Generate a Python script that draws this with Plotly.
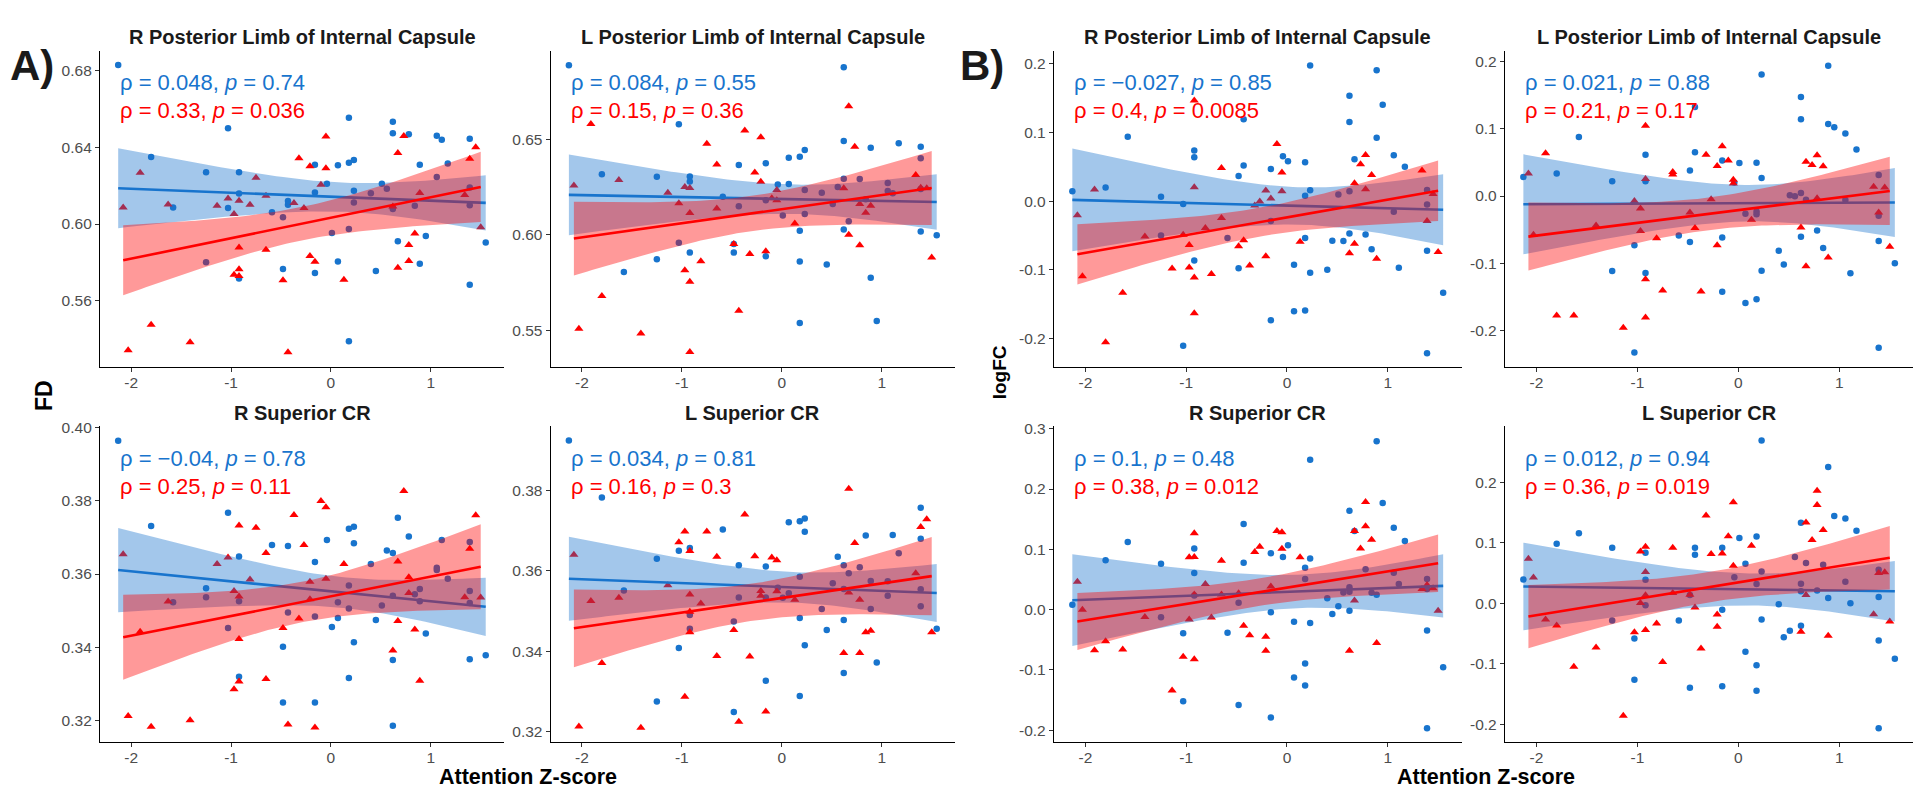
import numpy as np
import plotly.graph_objects as go

# ---------------- data ----------------
X_BLUE = [-2.13, -1.80, -1.58, -1.25, -1.25, -1.03, -1.03, -0.92, -0.92, -0.92, -0.59, -0.48, -0.48,
          -0.43, -0.43, -0.16, -0.16, -0.16, -0.04, 0.01, 0.07, 0.07, 0.18, 0.18, 0.18, 0.18, 0.23, 0.23,
          0.23, 0.40, 0.45, 0.51, 0.56, 0.62, 0.62, 0.62, 0.62, 0.67, 0.78, 0.84, 0.89, 0.89, 0.95, 1.06,
          1.06, 1.11, 1.17, 1.39, 1.39, 1.39, 1.39, 1.55]
X_RED = [-2.08, -2.03, -1.91, -1.80, -1.63, -1.41, -1.14, -1.03, -0.97, -0.97, -0.92, -0.92, -0.92, -0.92,
         -0.81, -0.75, -0.65, -0.65, -0.48, -0.43, -0.37, -0.32, -0.27, -0.21, -0.21, -0.16, -0.10, -0.05,
         -0.05, 0.13, 0.62, 0.67, 0.67, 0.73, 0.78, 0.78, 0.84, 0.89, 1.34, 1.39, 1.45, 1.50]

FD_R_PLIC_BLUE = [0.683, 0.635, 0.6086, 0.627, 0.580, 0.650, 0.6084, 0.627, 0.6159, 0.5716, 0.6062, 0.6036, 0.5766,
                  0.612, 0.610, 0.6309, 0.6164, 0.5745, 0.621, 0.5953, 0.6307, 0.5805, 0.6555, 0.632, 0.5974, 0.5388,
                  0.6334, 0.6174, 0.6112, 0.616, 0.5755, 0.621, 0.6184, 0.6534, 0.6474, 0.6086, 0.6078, 0.591,
                  0.6469, 0.6095, 0.6309, 0.5793, 0.5938, 0.646, 0.6245, 0.644, 0.6316, 0.6445, 0.619, 0.6098,
                  0.5683, 0.5903]
FD_R_PLIC_RED = [0.6086, 0.5341, 0.6267, 0.5474, 0.6102, 0.5383, 0.6095, 0.6133, 0.6052, 0.5736, 0.6121, 0.5878,
                 0.5764, 0.5729, 0.610, 0.6241, 0.6147, 0.5866, 0.5707, 0.5331, 0.611, 0.6343, 0.6083, 0.6302,
                 0.5833, 0.5803, 0.6205, 0.6457, 0.6291, 0.5709, 0.6091, 0.6371, 0.5772, 0.6459, 0.5891, 0.5807,
                 0.595, 0.6162, 0.6152, 0.6341, 0.640, 0.5983]

FD_L_PLIC_BLUE = [0.6888, 0.6318, 0.5805, 0.6304, 0.5872, 0.6579, 0.5959, 0.6306, 0.628, 0.5907, 0.6199, 0.5952,
                  0.5907, 0.6366, 0.615, 0.6375, 0.6181, 0.5888, 0.6264, 0.6102, 0.6404, 0.6266, 0.6409, 0.6022,
                  0.586, 0.5539, 0.6444, 0.6235, 0.6109, 0.6221, 0.5845, 0.6161, 0.625, 0.6877, 0.6492, 0.6294,
                  0.6028, 0.6071, 0.6292, 0.6187, 0.6456, 0.5775, 0.5549, 0.6271, 0.623, 0.6218, 0.648, 0.6461,
                  0.6401, 0.624, 0.6017, 0.5998]
FD_L_PLIC_RED = [0.6259, 0.5509, 0.658, 0.568, 0.6287, 0.5484, 0.6221, 0.6166, 0.625, 0.5815, 0.6245, 0.6114,
                 0.5755, 0.5387, 0.5862, 0.6477, 0.6368, 0.6138, 0.5952, 0.5603, 0.6546, 0.59, 0.6326, 0.6511,
                 0.6278, 0.5914, 0.6192, 0.6235, 0.6181, 0.6059, 0.6244, 0.6674, 0.60, 0.6461, 0.6162, 0.5946,
                 0.6116, 0.6152, 0.6314, 0.6247, 0.6244, 0.5881]

FD_R_SCR_BLUE = [0.3963, 0.3731, 0.3523, 0.3561, 0.3537, 0.3767, 0.3453, 0.3648, 0.3526, 0.332, 0.3679, 0.3402,
                 0.325, 0.3676, 0.3495, 0.3633, 0.3484, 0.325, 0.3693, 0.3456, 0.3523, 0.348, 0.3723, 0.3569,
                 0.3506, 0.3317, 0.3729, 0.3684, 0.3414, 0.3627, 0.3475, 0.3514, 0.3664, 0.3657, 0.3541, 0.3366,
                 0.3187, 0.3753, 0.3702, 0.3545, 0.3559, 0.3526, 0.3438, 0.3617, 0.3611, 0.3693, 0.3587, 0.3687,
                 0.3554, 0.3521, 0.3368, 0.3379]
FD_R_SCR_RED = [0.3654, 0.3213, 0.3443, 0.3184, 0.3525, 0.3202, 0.3627, 0.3645, 0.3554, 0.3286, 0.3732, 0.3539,
                0.3423, 0.3307, 0.3585, 0.3726, 0.3657, 0.3314, 0.3453, 0.319, 0.3761, 0.3479, 0.3679, 0.3579,
                0.3531, 0.3182, 0.3799, 0.3782, 0.3587, 0.3627, 0.3392, 0.3634, 0.3472, 0.3826, 0.3591, 0.3548,
                0.3449, 0.3309, 0.3537, 0.3669, 0.376, 0.3536]

FD_L_SCR_BLUE = [0.3924, 0.3782, 0.3551, 0.363, 0.3275, 0.365, 0.3408, 0.3657, 0.349, 0.3456, 0.3703, 0.3474,
                 0.3249, 0.3614, 0.3534, 0.3611, 0.3534, 0.3327, 0.3558, 0.3533, 0.3721, 0.3544, 0.3723, 0.3585,
                 0.3483, 0.3289, 0.373, 0.3697, 0.3415, 0.3505, 0.3453, 0.3569, 0.3635, 0.3614, 0.3555, 0.3478,
                 0.3346, 0.3594, 0.3609, 0.3688, 0.3575, 0.3505, 0.3372, 0.3574, 0.3538, 0.3689, 0.3644, 0.3757,
                 0.368, 0.3554, 0.3512, 0.3456]
FD_L_SCR_RED = [0.364, 0.3213, 0.3525, 0.3371, 0.3533, 0.321, 0.3564, 0.3671, 0.3698, 0.3287, 0.3649, 0.3541,
                0.3498, 0.3447, 0.3519, 0.3698, 0.3635, 0.3388, 0.3453, 0.3225, 0.374, 0.3387, 0.3636, 0.355,
                0.3538, 0.325, 0.3633, 0.3626, 0.3549, 0.3528, 0.3396, 0.3804, 0.3546, 0.3669, 0.3528, 0.3396,
                0.3447, 0.3451, 0.3594, 0.3709, 0.3728, 0.3447]

LOGFC_R_PLIC_BLUE = [0.0144, 0.0197, 0.0935, 0.0062, -0.050, -0.0043, -0.210, 0.0734, 0.0638, -0.0863, -0.0537,
                     0.0365, -0.0974, 0.119, 0.0518, 0.0465, -0.029, -0.173, 0.0652, 0.058, -0.0926, -0.160,
                     0.0566, 0.0077, -0.0537, -0.159, 0.197, 0.0158, -0.104, -0.0998, -0.0576, 0.0096, -0.058,
                     0.153, 0.115, 0.0144, -0.047, 0.0609, -0.0484, -0.070, 0.190, 0.092, 0.140, 0.0667, -0.0153,
                     -0.0969, 0.050, 0.0163, -0.0048, -0.072, -0.221, -0.133]
LOGFC_R_PLIC_RED = [-0.0206, -0.109, 0.0168, -0.205, -0.133, -0.0513, -0.098, -0.049, -0.0638, -0.0964, 0.146,
                    0.020, -0.111, -0.163, -0.039, -0.106, 0.048, -0.0245, -0.0657, -0.057, -0.0935, -0.0062,
                    -0.0005, 0.0153, -0.080, 0.0038, 0.083, 0.0417, 0.0144, -0.059, -0.0758, 0.0259, -0.0619,
                    0.0537, 0.0671, 0.0173, 0.0379, -0.0839, 0.0446, -0.0288, 0.0105, -0.0739]

LOGFC_L_PLIC_BLUE = [0.0284, 0.0333, 0.0875, 0.022, -0.1115, -0.0733, -0.2323, 0.0611, 0.022, -0.1144, -0.0587,
                     0.0377, -0.0685, 0.132, 0.065, 0.0528, -0.0616, -0.1423, 0.02, 0.049, -0.0264, -0.159,
                     0.0494, -0.023, -0.027, -0.1535, 0.1804, 0.0269, -0.111, -0.0812, -0.1017, 0.001, -0.0005,
                     0.1472, 0.1139, 0.0044, -0.0606, -0.0054, -0.0513, -0.0773, 0.1936, 0.1071, 0.1022, 0.0929,
                     -0.0059, -0.1149, 0.069, 0.0313, -0.0293, -0.067, -0.2254, -0.0998]
LOGFC_L_PLIC_RED = [0.0333, -0.0577, 0.0636, -0.1775, -0.1775, -0.044, -0.1956, -0.0073, -0.0186, -0.0518, 0.1042,
                    0.0254, -0.1237, -0.1804, -0.0626, -0.1403, 0.0357, 0.0318, -0.0244, -0.0474, -0.1418, 0.0611,
                    -0.0049, 0.0445, -0.0733, 0.0738, 0.0528, 0.024, 0.0186, -0.0352, -0.0469, 0.0509, -0.1042,
                    0.046, 0.0606, -0.0034, 0.044, -0.0914, 0.0137, -0.0244, 0.0127, -0.0753]

LOGFC_R_SCR_BLUE = [0.0082, 0.082, 0.112, 0.076, -0.0126, -0.0393, -0.152, 0.1016, 0.0607, 0.0235, -0.0383, 0.0115,
                    -0.158, 0.142, 0.0776, 0.0934, -0.0044, -0.1787, 0.0874, 0.1066, -0.0202, -0.1126, 0.0694,
                    0.0508, -0.0891, -0.1257, 0.2486, 0.0847, -0.0219, 0.0191, -0.0071, 0.0055, 0.0284, 0.1639,
                    0.0372, 0.0295, -0.0016, 0.1306, 0.0672, 0.0279, 0.2792, 0.0246, 0.177, 0.136, 0.0612, 0.0426,
                    0.1137, 0.0508, 0.0344, -0.0344, -0.1967, -0.0956]
LOGFC_R_SCR_RED = [0.0464, 0.0, -0.0672, -0.0525, -0.0661, -0.012, -0.1339, -0.0781, 0.0869, -0.0164, 0.1268,
                   0.0874, 0.0251, -0.082, 0.0426, -0.0131, 0.0809, 0.0251, 0.0273, -0.0268, -0.0426, 0.0956,
                   0.1044, -0.0448, -0.0683, 0.0383, 0.1306, 0.1284, 0.1011, 0.0869, -0.0683, 0.1306, 0.0153,
                   0.1016, 0.1787, 0.1383, 0.1158, -0.0552, 0.0344, 0.041, 0.0355, -0.0016]

LOGFC_L_SCR_BLUE = [0.0393, 0.0984, 0.1158, 0.0918, -0.0284, -0.0585, -0.1268, 0.0836, 0.0388, -0.0033, -0.0284,
                    0.0137, -0.1399, 0.0918, 0.0803, 0.0918, -0.0109, -0.1372, 0.0432, 0.1082, 0.0656, -0.0803,
                    0.1104, 0.0317, -0.1027, -0.1448, 0.2694, 0.0525, -0.0268, -0.0016, -0.0563, -0.0454, 0.0765,
                    0.1333, 0.0322, 0.0197, -0.0372, 0.0667, 0.0213, 0.0639, 0.2257, 0.0087, 0.1443, 0.1404,
                    0.0355, 0.0, 0.1202, 0.0557, 0.0104, -0.0617, -0.2071, -0.0918]
LOGFC_L_SCR_RED = [0.0738, 0.0426, -0.0268, -0.0366, -0.1049, -0.0732, -0.1863, -0.0481, 0.0858, 0.0005, 0.0934,
                   0.0519, 0.0131, -0.0443, -0.0333, -0.0973, 0.0918, 0.0169, 0.0142, -0.0071, -0.0749, 0.1454,
                   0.0814, -0.0186, -0.0388, 0.0825, 0.1109, 0.1672, 0.0623, 0.0951, -0.047, 0.1339, 0.0137,
                   0.1049, 0.1863, 0.1628, 0.1213, -0.0536, -0.018, 0.0503, 0.0514, -0.0301]

TITLES = ["R Posterior Limb of Internal Capsule", "L Posterior Limb of Internal Capsule",
          "R Posterior Limb of Internal Capsule", "L Posterior Limb of Internal Capsule",
          "R Superior CR", "L Superior CR", "R Superior CR", "L Superior CR"]
STATS_BLUE = ["ρ = 0.048, <i>p</i> = 0.74", "ρ = 0.084, <i>p</i> = 0.55",
              "ρ = −0.027, <i>p</i> = 0.85", "ρ = 0.021, <i>p</i> = 0.88",
              "ρ = −0.04, <i>p</i> = 0.78", "ρ = 0.034, <i>p</i> = 0.81",
              "ρ = 0.1, <i>p</i> = 0.48", "ρ = 0.012, <i>p</i> = 0.94"]
STATS_RED = ["ρ = 0.33, <i>p</i> = 0.036", "ρ = 0.15, <i>p</i> = 0.36",
             "ρ = 0.4, <i>p</i> = 0.0085", "ρ = 0.21, <i>p</i> = 0.17",
             "ρ = 0.25, <i>p</i> = 0.11", "ρ = 0.16, <i>p</i> = 0.3",
             "ρ = 0.38, <i>p</i> = 0.012", "ρ = 0.36, <i>p</i> = 0.019"]

X_TICKS = [-2, -1, 0, 1]
X_TICK_LABELS = ["-2", "-1", "0", "1"]
Y_TICKS = [[0.56, 0.60, 0.64, 0.68], [0.55, 0.60, 0.65],
           [-0.2, -0.1, 0.0, 0.1, 0.2], [-0.2, -0.1, 0.0, 0.1, 0.2],
           [0.32, 0.34, 0.36, 0.38, 0.40], [0.32, 0.34, 0.36, 0.38],
           [-0.2, -0.1, 0.0, 0.1, 0.2, 0.3], [-0.2, -0.1, 0.0, 0.1, 0.2]]
Y_TICK_LABELS = [["0.56", "0.60", "0.64", "0.68"], ["0.55", "0.60", "0.65"],
                 ["-0.2", "-0.1", "0.0", "0.1", "0.2"], ["-0.2", "-0.1", "0.0", "0.1", "0.2"],
                 ["0.32", "0.34", "0.36", "0.38", "0.40"], ["0.32", "0.34", "0.36", "0.38"],
                 ["-0.2", "-0.1", "0.0", "0.1", "0.2", "0.3"], ["-0.2", "-0.1", "0.0", "0.1", "0.2"]]

BLUE_Y = [FD_R_PLIC_BLUE, FD_L_PLIC_BLUE, LOGFC_R_PLIC_BLUE, LOGFC_L_PLIC_BLUE,
          FD_R_SCR_BLUE, FD_L_SCR_BLUE, LOGFC_R_SCR_BLUE, LOGFC_L_SCR_BLUE]
RED_Y = [FD_R_PLIC_RED, FD_L_PLIC_RED, LOGFC_R_PLIC_RED, LOGFC_L_PLIC_RED,
         FD_R_SCR_RED, FD_L_SCR_RED, LOGFC_R_SCR_RED, LOGFC_L_SCR_RED]

# ---------------- layout geometry ----------------
W, H = 1921, 790
COL_PX = [(100, 504), (550.7, 955), (1054, 1461.6), (1505, 1913.3)]
ROW_PX = [(43, 362.7), (422.7, 741.7)]
Y_RANGES = [(0.5254, 0.6905), (0.5308, 0.6965), (-0.241, 0.2187), (-0.254, 0.216),
            (0.3142, 0.4002), (0.3174, 0.3959), (-0.2197, 0.3038), (-0.230, 0.2928)]
X_RANGE = (-2.312, 1.733)

BLUE = "#1874CD"
RED = "#FF0000"
BLUE_FILL = "rgba(24,116,205,0.4)"
RED_FILL = "rgba(255,0,0,0.4)"
FONT = "Liberation Sans, Arial, sans-serif"


def t975(df):
    z = 1.959963985
    g1 = (z ** 3 + z) / 4
    g2 = (5 * z ** 5 + 16 * z ** 3 + 3 * z) / 96
    g3 = (3 * z ** 7 + 19 * z ** 5 + 17 * z ** 3 - 15 * z) / 384
    return z + g1 / df + g2 / df ** 2 + g3 / df ** 3


def lm_band(x, y, n=80):
    x = np.asarray(x, float)
    y = np.asarray(y, float)
    k = len(x)
    xm, ym = x.mean(), y.mean()
    sxx = ((x - xm) ** 2).sum()
    b1 = ((x - xm) * (y - ym)).sum() / sxx
    b0 = ym - b1 * xm
    s = np.sqrt(((y - (b0 + b1 * x)) ** 2).sum() / (k - 2))
    g = np.linspace(x.min(), x.max(), n)
    fit = b0 + b1 * g
    se = s * np.sqrt(1.0 / k + (g - xm) ** 2 / sxx)
    t = t975(k - 2)
    return g, fit, fit - t * se, fit + t * se


fig = go.Figure()
layout = dict(
    width=W, height=H, margin=dict(l=0, r=0, t=0, b=0),
    paper_bgcolor="white", plot_bgcolor="white", showlegend=False,
    font=dict(family=FONT, color="#4D4D4D"),
)
annotations = []

for i in range(8):
    k = i + 1
    col = i % 4
    row = i // 4
    xs = "" if k == 1 else str(k)
    xa, ya = "x" + xs, "y" + xs
    x0, x1 = COL_PX[col]
    y0, y1 = ROW_PX[row]

    layout["xaxis" + xs] = dict(
        domain=[x0 / W, x1 / W], anchor=ya, range=list(X_RANGE),
        tickvals=X_TICKS, ticktext=X_TICK_LABELS,
        showline=True, linecolor="#000000", linewidth=1.3, mirror=False,
        ticks="outside", ticklen=4, tickwidth=1.2, tickcolor="#333333", ticklabelstandoff=-3,
        showgrid=False, zeroline=False, tickfont=dict(size=15.5, color="#4D4D4D", family=FONT),
    )
    layout["yaxis" + xs] = dict(
        domain=[1 - y1 / H, 1 - y0 / H], anchor=xa, range=list(Y_RANGES[i]),
        tickvals=Y_TICKS[i], ticktext=Y_TICK_LABELS[i],
        showline=True, linecolor="#000000", linewidth=1.3, mirror=False,
        ticks="outside", ticklen=4, tickwidth=1.2, tickcolor="#333333",
        showgrid=False, zeroline=False, tickfont=dict(size=15.5, color="#4D4D4D", family=FONT),
    )

    # points (drawn first, ribbons on top as in ggplot)
    fig.add_trace(go.Scatter(x=X_BLUE, y=BLUE_Y[i], mode="markers", xaxis=xa, yaxis=ya,
                             marker=dict(symbol="circle", size=6.5, color=BLUE, line=dict(width=0)),
                             hoverinfo="x+y"))
    fig.add_trace(go.Scatter(x=X_RED, y=RED_Y[i], mode="markers", xaxis=xa, yaxis=ya,
                             marker=dict(symbol="triangle-up", size=8, color=RED, line=dict(width=0)),
                             hoverinfo="x+y"))

    for xv, yv, fillc, linec in ((X_BLUE, BLUE_Y[i], BLUE_FILL, BLUE), (X_RED, RED_Y[i], RED_FILL, RED)):
        g, fit, lo, hi = lm_band(xv, yv)
        fig.add_trace(go.Scatter(x=np.concatenate([g, g[::-1]]), y=np.concatenate([hi, lo[::-1]]),
                                 mode="lines", fill="toself", fillcolor=fillc, line=dict(width=0),
                                 xaxis=xa, yaxis=ya, hoverinfo="skip"))
        fig.add_trace(go.Scatter(x=g, y=fit, mode="lines", line=dict(color=linec, width=2.6),
                                 xaxis=xa, yaxis=ya, hoverinfo="skip"))

    ph = y1 - y0
    annotations.append(dict(text="<b>" + TITLES[i] + "</b>", xref=xa + " domain", yref=ya + " domain",
                            x=0.5, y=1 + 14 / ph, xanchor="center", yanchor="middle", showarrow=False,
                            font=dict(size=20, color="#1A1A1A", family=FONT)))
    annotations.append(dict(text=STATS_BLUE[i], xref=xa, yref=ya + " domain", x=min(X_BLUE),
                            y=1 - 32 / ph, xanchor="left", yanchor="middle", showarrow=False,
                            font=dict(size=22, color=BLUE, family=FONT)))
    annotations.append(dict(text=STATS_RED[i], xref=xa, yref=ya + " domain", x=min(X_BLUE),
                            y=1 - 61 / ph, xanchor="left", yanchor="middle", showarrow=False,
                            font=dict(size=22, color=RED, family=FONT)))

# panel labels and axis titles
annotations += [
    dict(text="<b>A)</b>", xref="paper", yref="paper", x=32 / W, y=1 - 58 / H, xanchor="center",
         yanchor="middle", showarrow=False, font=dict(size=42, color="#1A1A1A", family=FONT)),
    dict(text="<b>B)</b>", xref="paper", yref="paper", x=982 / W, y=1 - 58 / H, xanchor="center",
         yanchor="middle", showarrow=False, font=dict(size=42, color="#1A1A1A", family=FONT)),
    dict(text="<b>FD</b>", xref="paper", yref="paper", x=44 / W, y=1 - 392 / H, xanchor="center",
         yanchor="middle", textangle=-90, showarrow=False, font=dict(size=23, color="#000000", family=FONT)),
    dict(text="<b>logFC</b>", xref="paper", yref="paper", x=999 / W, y=1 - 368 / H, xanchor="center",
         yanchor="middle", textangle=-90, showarrow=False, font=dict(size=19, color="#000000", family=FONT)),
    dict(text="<b>Attention Z-score</b>", xref="paper", yref="paper", x=528 / W, y=0,
         xanchor="center", yanchor="bottom", showarrow=False, borderpad=0,
         font=dict(size=21.5, color="#000000", family=FONT)),
    dict(text="<b>Attention Z-score</b>", xref="paper", yref="paper", x=1486 / W, y=0,
         xanchor="center", yanchor="bottom", showarrow=False, borderpad=0,
         font=dict(size=21.5, color="#000000", family=FONT)),
]
layout["annotations"] = annotations
fig.update_layout(**layout)

fig.write_html("out.html", include_plotlyjs=True, config={"displayModeBar": False},
               post_script="document.body.style.margin='0';document.body.style.overflow='hidden';")
